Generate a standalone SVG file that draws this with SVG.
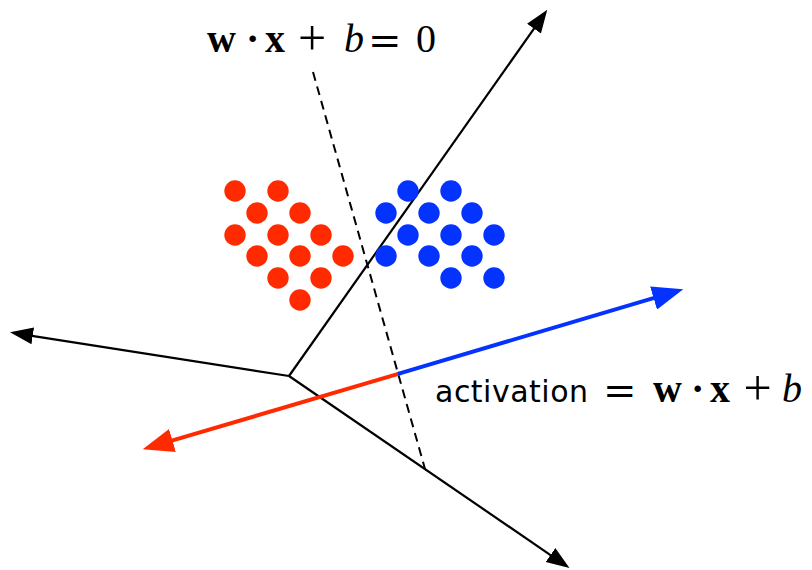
<svg xmlns="http://www.w3.org/2000/svg" width="812" height="570" viewBox="0 0 812 570">
<style>
.ax{stroke:#000;stroke-width:2.2;fill:none}
.dash{stroke:#000;stroke-width:2;stroke-dasharray:9 6;fill:none}
.rl{stroke:#ff2a00;stroke-width:4;fill:none}
.bl{stroke:#0433ff;stroke-width:4;fill:none}
.r{fill:#ff2a00}
.b{fill:#0433ff}
.m{font-family:"Liberation Serif","Times New Roman",serif;font-size:40px;fill:#000}
.op{font-family:"DejaVu Serif","Liberation Serif",serif;font-weight:normal}
.pl{font-size:50px}
.bf{font-weight:bold}
.it{font-style:italic}
.s{font-family:"DejaVu Sans","Liberation Sans",sans-serif;font-size:30px;fill:#000}
</style>
<defs>
<marker id="ahK" markerUnits="userSpaceOnUse" markerWidth="24" markerHeight="18" refX="4" refY="8.5" orient="auto" viewBox="0 0 24 17"><path d="M0,0 L23,8.5 L0,17 z" fill="#000"/></marker>
<marker id="ahR" markerUnits="userSpaceOnUse" markerWidth="32" markerHeight="24" refX="6" refY="12" orient="auto" viewBox="0 0 32 24"><path d="M0,0 L31,12 L0,24 z" fill="#ff2a00"/></marker>
<marker id="ahB" markerUnits="userSpaceOnUse" markerWidth="32" markerHeight="24" refX="6" refY="12" orient="auto" viewBox="0 0 32 24"><path d="M0,0 L31,12 L0,24 z" fill="#0433ff"/></marker>
</defs>
<g id="connectors">
<line class="ax" x1="289" y1="376" x2="536.3" y2="25.4" marker-end="url(#ahK)"/>
<line class="ax" x1="289" y1="376" x2="28.8" y2="335.3" marker-end="url(#ahK)"/>
<line class="ax" x1="289" y1="376" x2="553.8" y2="557.3" marker-end="url(#ahK)"/>
<line class="dash" x1="313" y1="72" x2="425" y2="469"/>
<line class="rl" x1="400" y1="373.3" x2="166.7" y2="442.2" marker-end="url(#ahR)"/>
<line class="bl" x1="398" y1="373.9" x2="659.3" y2="296.4" marker-end="url(#ahB)"/>
</g>
<g id="red-class">
<circle class="r" cx="235" cy="191" r="10.7"/>
<circle class="r" cx="278" cy="191" r="10.7"/>
<circle class="r" cx="257" cy="213" r="10.7"/>
<circle class="r" cx="300" cy="213" r="10.7"/>
<circle class="r" cx="235" cy="235" r="10.7"/>
<circle class="r" cx="278" cy="235" r="10.7"/>
<circle class="r" cx="321" cy="235" r="10.7"/>
<circle class="r" cx="257" cy="256" r="10.7"/>
<circle class="r" cx="300" cy="256" r="10.7"/>
<circle class="r" cx="343" cy="256" r="10.7"/>
<circle class="r" cx="278" cy="278" r="10.7"/>
<circle class="r" cx="321" cy="278" r="10.7"/>
<circle class="r" cx="300" cy="300" r="10.7"/>
</g>
<g id="blue-class">
<circle class="b" cx="408" cy="191" r="10.7"/>
<circle class="b" cx="451" cy="191" r="10.7"/>
<circle class="b" cx="386" cy="213" r="10.7"/>
<circle class="b" cx="429" cy="213" r="10.7"/>
<circle class="b" cx="472" cy="213" r="10.7"/>
<circle class="b" cx="408" cy="235" r="10.7"/>
<circle class="b" cx="451" cy="235" r="10.7"/>
<circle class="b" cx="494" cy="235" r="10.7"/>
<circle class="b" cx="386" cy="256" r="10.7"/>
<circle class="b" cx="429" cy="256" r="10.7"/>
<circle class="b" cx="472" cy="256" r="10.7"/>
<circle class="b" cx="451" cy="278" r="10.7"/>
<circle class="b" cx="494" cy="278" r="10.7"/>
</g>
<g id="label-hyperplane">
<text class="m" y="52"><tspan class="bf" x="207">w</tspan><tspan class="bf" x="246">·</tspan><tspan class="bf" x="265">x</tspan><tspan class="pl" x="298" y="55">+</tspan><tspan class="it" x="344" y="52">b</tspan><tspan class="op" x="368" y="54">=</tspan><tspan x="416" y="52">0</tspan></text>
</g>
<g id="label-activation">
<text class="s" x="435" y="402" textLength="153" lengthAdjust="spacing">activation</text>
<text class="m" y="402"><tspan class="op" x="603" y="404">=</tspan><tspan class="bf" x="653" y="402">w</tspan><tspan class="bf" x="691">·</tspan><tspan class="bf" x="710">x</tspan><tspan class="pl" x="743.5" y="405">+</tspan><tspan class="it" x="782" y="402">b</tspan></text>
</g>
</svg>
